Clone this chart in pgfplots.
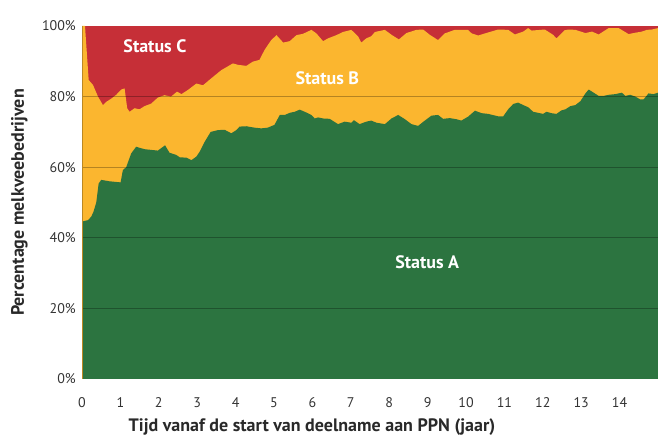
\documentclass[border=0pt]{standalone}
\usepackage{pgfplots}
\pgfplotsset{compat=1.18}
\usepackage{pgfplotstable}
\usepackage{fontspec}
\setmainfont{PT Sans}
\usetikzlibrary{calc}
\definecolor{cA}{HTML}{2C7440}
\definecolor{cB}{HTML}{FBB62F}
\definecolor{cC}{HTML}{C62F37}
\definecolor{txt}{HTML}{333333}

% Status A (green), top of A
\pgfplotstableread{
t v
0.000 44.6
0.156 45.0
0.242 46.0
0.300 47.4
0.371 50.0
0.434 55.4
0.501 56.4
0.719 56.0
1.005 55.7
1.065 59.2
1.151 60.0
1.281 63.9
1.410 65.8
1.499 65.5
1.629 65.1
1.974 64.7
2.164 66.2
2.278 64.1
2.449 63.5
2.545 62.8
2.719 62.7
2.849 62.0
2.979 63.0
3.065 64.4
3.195 67.2
3.351 70.0
3.540 70.5
3.714 70.6
3.888 69.6
4.018 70.5
4.104 71.5
4.278 71.6
4.494 71.2
4.668 71.0
4.839 71.2
5.013 72.0
5.151 74.8
5.281 74.8
5.410 75.4
5.540 75.7
5.670 76.3
5.800 75.7
5.974 74.8
6.060 73.8
6.148 74.1
6.278 73.8
6.449 73.7
6.668 72.2
6.839 72.9
7.013 72.6
7.083 73.3
7.229 72.2
7.403 72.9
7.532 73.2
7.670 72.6
7.888 72.2
8.060 73.8
8.234 74.8
8.408 73.6
8.579 72.2
8.753 71.7
8.927 73.2
9.099 74.6
9.273 74.8
9.403 73.7
9.577 73.9
9.748 73.6
9.878 73.2
10.052 74.3
10.234 76.0
10.408 75.3
10.579 75.1
10.839 74.4
10.969 74.4
11.099 76.4
11.229 77.9
11.358 78.3
11.488 77.6
11.618 77.0
11.748 75.7
11.878 75.4
12.008 75.1
12.096 75.7
12.226 75.3
12.356 75.1
12.486 76.1
12.590 76.4
12.719 77.3
12.849 77.6
12.979 78.7
13.109 80.9
13.195 82.0
13.325 81.1
13.455 80.2
13.584 80.2
13.714 80.5
13.888 80.7
14.060 81.1
14.148 80.2
14.278 80.5
14.408 80.0
14.537 79.2
14.623 79.2
14.753 80.9
14.883 80.7
15.000 81.1
}\tabA

% Status A + B, top of B
\pgfplotstableread{
t v
0.000 100.0
0.078 100.0
0.174 84.7
0.286 83.3
0.416 80.0
0.545 77.6
0.631 78.5
0.761 79.4
0.891 80.5
1.021 82.0
1.109 82.3
1.177 76.7
1.239 75.7
1.369 76.7
1.499 76.4
1.629 77.3
1.800 78.0
1.974 79.7
2.148 80.4
2.319 80.0
2.475 81.4
2.590 80.7
2.761 81.9
2.979 83.7
3.151 83.2
3.369 85.2
3.629 87.5
3.930 89.4
4.060 89.0
4.278 88.7
4.449 89.9
4.623 90.4
4.753 93.2
4.927 96.0
5.065 97.4
5.239 95.3
5.410 95.7
5.584 97.4
5.758 97.8
5.974 98.9
6.104 97.9
6.278 95.7
6.408 96.5
6.623 97.4
6.797 98.3
7.013 98.9
7.187 97.1
7.273 95.3
7.403 96.5
7.532 97.1
7.628 98.3
7.888 98.9
8.060 97.5
8.252 96.2
8.449 98.0
8.709 98.9
8.883 99.0
9.057 97.5
9.273 96.0
9.447 97.9
9.706 98.9
10.052 98.9
10.148 97.9
10.319 97.3
10.494 97.9
10.839 99.0
11.099 98.9
11.273 97.6
11.488 98.4
11.618 99.4
11.706 98.7
12.052 99.0
12.268 97.5
12.356 96.5
12.486 97.9
12.571 98.8
12.675 99.0
12.849 98.9
13.109 98.0
13.281 98.4
13.455 97.6
13.714 99.4
13.974 99.4
14.234 97.7
14.408 98.1
14.579 98.4
14.709 98.9
14.839 99.0
15.000 99.4
}\tabAB

\begin{document}
\begin{tikzpicture}
\begin{axis}[
  name=ax,
  scale only axis,
  width=432pt, height=264.75pt,
  xmin=0, xmax=15, ymin=0, ymax=100,
  axis line style={draw=none},
  major tick length=0pt,
  xtick={0,1,...,14},
  xticklabels={0,1,2,3,4,5,6,7,8,9,10,11,12,13,14},
  ytick={0,20,40,60,80,100},
  yticklabels={0\%,20\%,40\%,60\%,80\%,100\%},
  tick label style={font=\fontsize{10.5}{12}\selectfont, text=txt},
  yticklabel style={anchor=east, inner sep=0pt, xshift=-4.5pt},
  xticklabel style={anchor=center, inner sep=0pt, yshift=-18pt},
  clip=true,
]
  \addplot[fill=cC, draw=none] coordinates {(0,100) (15,100)} \closedcycle;
  \addplot[fill=cB, draw=none] table[x=t, y=v] {\tabAB} \closedcycle;
  \addplot[fill=cA, draw=none] table[x=t, y=v] {\tabA} \closedcycle;
  \pgfplotsinvokeforeach{20,40,60,80}{
    \draw[black, opacity=0.28, line width=0.8pt] (axis cs:0,#1) -- (axis cs:15,#1);
  }
  \draw[cB!75!black, line width=0.5pt] (axis cs:0,0) -- (axis cs:0,100);
  \node[text=white, font=\bfseries\fontsize{13.5}{15}\selectfont] at (axis cs:1.9,94.3) {Status C};
  \node[text=white, font=\bfseries\fontsize{13.5}{15}\selectfont] at (axis cs:6.39,85.3) {Status B};
  \node[text=white, font=\bfseries\fontsize{13.5}{15}\selectfont] at (axis cs:8.99,33.1) {Status A};
\end{axis}
\node[rotate=90, text=txt!80!black, font=\bfseries\fontsize{13.5}{15}\selectfont] at ($(ax.west)+(-47pt,0)$) {Percentage melkveebedrijven};
\node[text=txt!80!black, font=\bfseries\fontsize{13.5}{15}\selectfont] at ($(ax.south)+(-43.5pt,-36pt)$) {Tijd vanaf de start van deelname aan PPN (jaar)};
\pgfresetboundingbox
\path ($(ax.south west)+(-61.5pt,-43.5pt)$) rectangle ($(ax.north east)+(0pt,19.5pt)$);
\end{tikzpicture}
\end{document}
